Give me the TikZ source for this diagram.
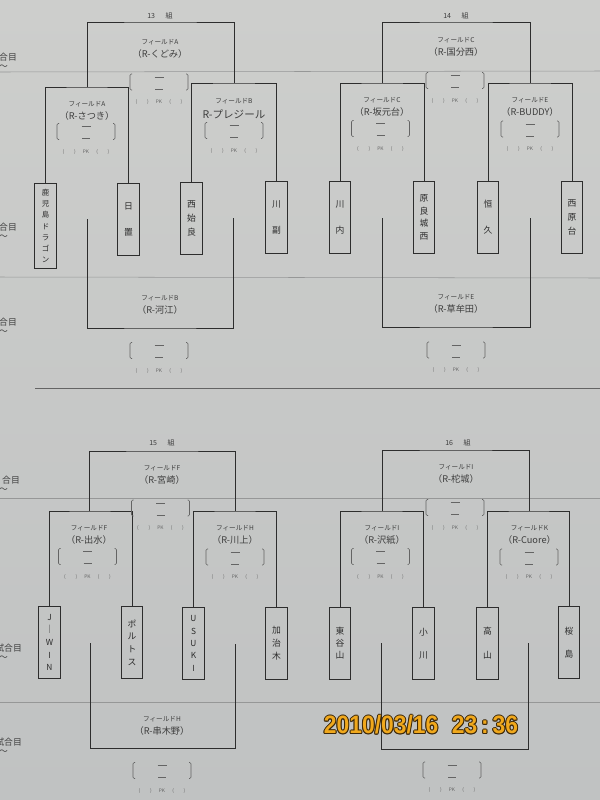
\documentclass[tikz,border=0pt]{standalone}
\usepackage{fontspec}
\usepackage{graphicx}
\usepackage{tikz}
\setmainfont{Noto Sans CJK JP}
\newfontfamily\stampFont{Liberation Sans}
\definecolor{paperTop}{RGB}{205,206,204}
\definecolor{paperBottom}{RGB}{192,194,194}
\definecolor{lineColor}{RGB}{45,45,45}
\definecolor{textColor}{RGB}{62,62,62}
\definecolor{markColor}{RGB}{100,100,100}
\definecolor{ruleColor}{RGB}{150,151,151}
\definecolor{stampColor}{RGB}{240,168,28}
\definecolor{stampEdgeColor}{RGB}{60,40,10}
\tikzstyle{sheet} = [x = 0.04cm, y = -0.04cm]
\tikzstyle{bracketLine} = [color=lineColor, line width=1pt]
\tikzstyle{teamStyle} = [draw=lineColor, line width=1pt, anchor=north, minimum width=0.86cm, inner sep=0pt, align=center, text=lineColor]
\tikzstyle{groupText} = [text=textColor, font=\fontsize{8}{9}\selectfont]
\tikzstyle{fieldText} = [text=textColor, font=\fontsize{7.5}{8}\selectfont]
\tikzstyle{schoolText} = [text=textColor, font=\fontsize{10.5}{11}\selectfont]
\tikzstyle{bigSchoolText} = [text=textColor, font=\fontsize{12}{13}\selectfont]
\tikzstyle{pkText} = [text=markColor, font=\fontsize{5.5}{6}\selectfont]
\tikzstyle{scoreMark} = [color=markColor, line width=0.7pt]
\tikzstyle{ruleLine} = [color=ruleColor, line width=0.6pt]
\tikzstyle{marginText} = [text=textColor, font=\fontsize{10}{11}\selectfont, inner sep=0pt]
\tikzstyle{stampText} = [font=\stampFont\bfseries\fontsize{26}{28}\selectfont, inner sep=0pt]
\newcommand{\teamBox}[6]{\node [teamStyle, minimum height=#3, font=\fontsize{#5}{#6}\selectfont] (#1) at (#2) {#4};}
\newcommand{\pairLine}[3]{\draw [bracketLine] (#1.north) |- (#3) -| (#2.north);}
\newcommand{\matchLabel}[4]{
  \node [fieldText] at (#1, #2) {フィールド#3};
  \node [schoolText] at (#1, #2 + 12) {（R-#4）};
}
\newcommand{\scoreBox}[2]{
  \draw [scoreMark, rounded corners=.05cm] (#1 - 27, #2 - 8) -- (#1 - 29, #2 - 8) -- (#1 - 29, #2 + 8) -- (#1 - 27, #2 + 8);
  \draw [scoreMark, rounded corners=.05cm] (#1 + 27, #2 - 8) -- (#1 + 29, #2 - 8) -- (#1 + 29, #2 + 8) -- (#1 + 27, #2 + 8);
  \draw [scoreMark] (#1 - 4.5, #2 - 5) -- + (9,0);
  \draw [scoreMark] (#1 - 4, #2 + 7) -- + (8,0);
  \node [pkText] at (#1, #2 + 20) {(\hspace{2em})\hspace{1.5em}PK\hspace{1.5em}(\hspace{2em})};
}
\newcommand{\marginLabel}[3]{
  \node [marginText, anchor=east] at (#1, #2) {#3};
  \node [marginText, anchor=east] at (8, #2 + 10) {〜};
}
\newcommand{\stampString}{2010/03/16\hspace{0.6em}23\,:\,36}

\begin{document}
\begin{tikzpicture}[sheet]
        \useasboundingbox (0,0) rectangle (600,800);
        \shade [top color=paperTop, bottom color=paperBottom] (0,0) rectangle (600,800);

        % rules of the sheet
        \draw [ruleLine] (0,72) -- (600,71);
        \draw [ruleLine] (0,277) -- (600,278);
        \draw [ruleLine, color=markColor] (35,388) -- (600,388);
        \draw [ruleLine] (0,498) -- (600,498);
        \draw [ruleLine] (0,702) -- (600,702);
        \marginLabel{17}{57}{合目}
        \marginLabel{17}{227}{合目}
        \marginLabel{17}{322}{合目}
        \marginLabel{20}{480}{合目}
        \marginLabel{22}{648}{試合目}
        \marginLabel{22}{742}{試合目}

        % 13組
        \node [groupText] (g13) at (160,16) {13\hspace{1.5em}組};
        \teamBox{t13a}{45.5,183}{3.4cm}{鹿\\児\\島\\ド\\ラ\\ゴ\\ン}{8.5}{12.7}
        \teamBox{t13b}{128.5,183}{2.88cm}{日\\置}{10}{29.5}
        \teamBox{t13c}{191.5,182}{2.88cm}{西\\始\\良}{10}{16.4}
        \teamBox{t13d}{276.5,181}{2.88cm}{川\\副}{10}{29.5}
        \coordinate (s13a) at (87,87);
        \coordinate (s13b) at (234,83);
        \coordinate (f13) at (160,22);
        \pairLine{t13a}{t13b}{s13a}
        \pairLine{t13c}{t13d}{s13b}
        \draw [bracketLine] (s13a) |- (f13) -| (s13b);
        \coordinate (u13a) at (87,219);
        \coordinate (u13b) at (233,218);
        \coordinate (h13) at (160,328);
        \draw [bracketLine] (u13a) |- (h13) -| (u13b);
        \matchLabel{160}{42}{A}{くどみ}
        \scoreBox{159}{82}
        \matchLabel{87}{104}{A}{さつき}
        \scoreBox{86}{131.5}
        \node [fieldText] at (234,101) {フィールドB};
        \node [bigSchoolText] at (234,114) {R-プレジール};
        \scoreBox{234}{130.5}
        \matchLabel{160}{298}{B}{河江}
        \scoreBox{159}{350.5}

        % 14組
        \node [groupText] (g14) at (456,16) {14\hspace{1.5em}組};
        \teamBox{t14a}{340,181}{2.88cm}{川\\内}{10}{29.5}
        \teamBox{t14b}{424,181}{2.88cm}{原\\良\\城\\西}{10}{14.4}
        \teamBox{t14c}{488,181}{2.88cm}{恒\\久}{10}{29.5}
        \teamBox{t14d}{572,181}{2.88cm}{西\\原\\台}{10}{16.4}
        \coordinate (s14a) at (382,83);
        \coordinate (s14b) at (530,83);
        \coordinate (f14) at (456,22);
        \pairLine{t14a}{t14b}{s14a}
        \pairLine{t14c}{t14d}{s14b}
        \draw [bracketLine] (s14a) |- (f14) -| (s14b);
        \coordinate (u14a) at (382,218);
        \coordinate (u14b) at (530,218);
        \coordinate (h14) at (456,327);
        \draw [bracketLine] (u14a) |- (h14) -| (u14b);
        \matchLabel{456}{40}{C}{国分西}
        \scoreBox{455}{80.5}
        \matchLabel{382}{100}{C}{坂元台}
        \scoreBox{380.5}{128.5}
        \matchLabel{530}{100}{E}{BUDDY}
        \scoreBox{530}{129}
        \matchLabel{456}{297}{E}{草牟田}
        \scoreBox{456}{350}

        % 15組
        \node [groupText] (g15) at (162,443) {15\hspace{1.5em}組};
        \teamBox{t15a}{49.5,606}{2.88cm}{J\\｜\\W\\I\\N}{9.5}{14.4}
        \teamBox{t15b}{132,606}{2.88cm}{ポ\\ル\\ト\\ス}{10}{14.4}
        \teamBox{t15c}{193.5,607}{2.88cm}{U\\S\\U\\K\\I}{9.5}{14.2}
        \teamBox{t15d}{276.5,607}{2.88cm}{加\\治\\木}{10}{14.8}
        \coordinate (s15a) at (89,511);
        \coordinate (s15b) at (235,511);
        \coordinate (f15) at (162,451);
        \pairLine{t15a}{t15b}{s15a}
        \pairLine{t15c}{t15d}{s15b}
        \draw [bracketLine] (s15a) |- (f15) -| (s15b);
        \coordinate (u15a) at (90,643);
        \coordinate (u15b) at (235,644);
        \coordinate (h15) at (162,748);
        \draw [bracketLine] (u15a) |- (h15) -| (u15b);
        \matchLabel{162}{468}{F}{宮崎}
        \scoreBox{160.5}{508}
        \matchLabel{89}{528}{F}{出水}
        \scoreBox{87.5}{556.5}
        \matchLabel{235}{528}{H}{川上}
        \scoreBox{235}{557}
        \matchLabel{162}{719}{H}{串木野}
        \scoreBox{162}{770.5}

        % 16組
        \node [groupText] (g16) at (458,443) {16\hspace{1.5em}組};
        \teamBox{t16a}{340,607}{2.88cm}{東\\谷\\山}{10}{13.6}
        \teamBox{t16b}{423.5,607}{2.88cm}{小\\川}{10}{26.5}
        \teamBox{t16c}{487.5,607}{2.88cm}{高\\山}{10}{27}
        \teamBox{t16d}{569,606}{2.88cm}{桜\\島}{10}{26}
        \coordinate (s16a) at (382,511);
        \coordinate (s16b) at (529.5,511);
        \coordinate (f16) at (456,450);
        \pairLine{t16a}{t16b}{s16a}
        \pairLine{t16c}{t16d}{s16b}
        \draw [bracketLine] (s16a) |- (f16) -| (s16b);
        \coordinate (u16a) at (381,643);
        \coordinate (u16b) at (528,643);
        \coordinate (h16) at (455,749);
        \draw [bracketLine] (u16a) |- (h16) -| (u16b);
        \matchLabel{456}{467}{I}{柁城}
        \scoreBox{455}{507.5}
        \matchLabel{382}{528}{I}{沢紙}
        \scoreBox{380.5}{556.5}
        \matchLabel{529.5}{528}{K}{Cuore}
        \scoreBox{529}{557}
        \scoreBox{452}{770}

        % date stamp
        \foreach \dx/\dy [count=\i] in {-1/0, 1/0, 0/-1, 0/1, -0.7/-0.7, 0.7/-0.7, -0.7/0.7, 0.7/0.7} {
          \node [stampText, text=stampEdgeColor] (stampEdge\i) at (421 + \dx, 725 + \dy) {\scalebox{1}[1.1]{\stampString}};
        }
        \node [stampText, text=stampColor] (stamp) at (421,725) {\scalebox{1}[1.1]{\stampString}};
      \end{tikzpicture}
\end{document}
